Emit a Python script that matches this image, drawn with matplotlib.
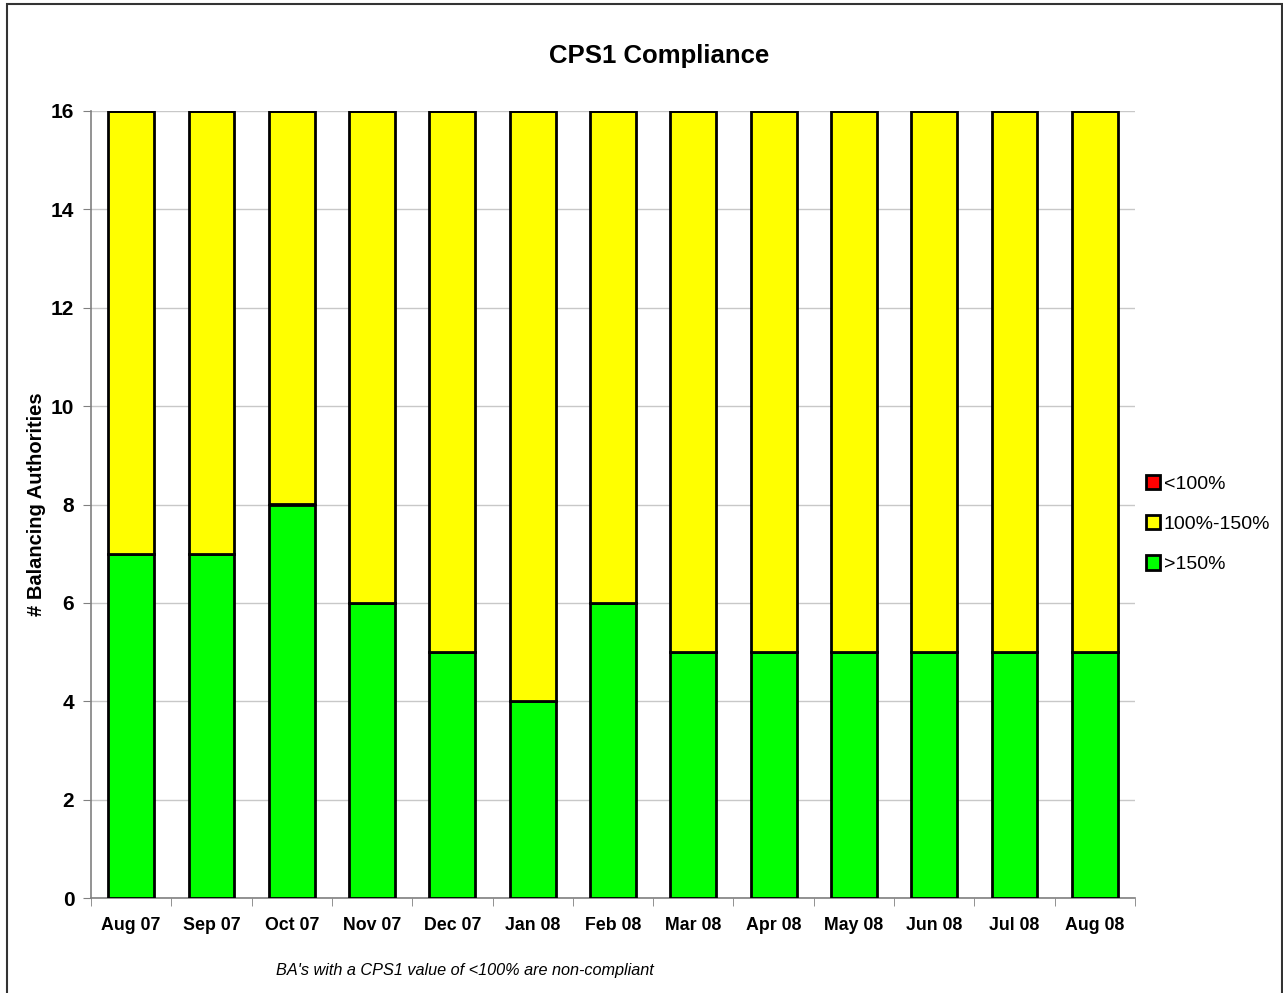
import matplotlib.pyplot as plt
import numpy as np
from matplotlib.patches import Rectangle

plt.rcParams['font.family'] = ['Liberation Sans', 'DejaVu Sans']

months = ["Aug 07", "Sep 07", "Oct 07", "Nov 07", "Dec 07", "Jan 08", "Feb 08",
          "Mar 08", "Apr 08", "May 08", "Jun 08", "Jul 08", "Aug 08"]
over_150 = [7, 7, 8, 6, 5, 4, 6, 5, 5, 5, 5, 5, 5]
mid_100_150 = [9, 9, 8, 10, 11, 12, 10, 11, 11, 11, 11, 11, 11]
under_100 = [0, 0, 0, 0, 0, 0, 0, 0, 0, 0, 0, 0, 0]

x = np.arange(len(months))
width = 0.57

fig = plt.figure(figsize=(12.83, 9.93), dpi=100)
ax = fig.add_axes([91 / 1283, 1 - 898 / 993, (1135 - 91) / 1283, (898 - 111) / 993])

green = np.array(over_150)
yellow = np.array(mid_100_150)
bars_g = ax.bar(x, green, width, color="#00ff00", edgecolor="black", linewidth=2, label=">150%", zorder=3)
bars_y = ax.bar(x, yellow, width, bottom=green, color="#ffff00", edgecolor="black", linewidth=2,
                label="100%-150%", zorder=3)
bars_r = ax.bar(x, under_100, width, bottom=green + yellow, color="#ff0000", edgecolor="black",
                linewidth=2, label="<100%", zorder=3)

ax.set_xlim(-0.5, len(months) - 0.5)
ax.set_ylim(0, 16)
ax.set_yticks(range(0, 17, 2))
ax.set_yticklabels([str(v) for v in range(0, 17, 2)], fontsize=15, fontweight="bold")
ax.set_xticks(x)
ax.set_xticklabels(months, fontsize=12.8, fontweight="bold")
ax.tick_params(axis="x", length=0, pad=14)
ax.set_xticks(np.arange(-0.5, len(months)), minor=True)
ax.tick_params(axis="x", which="minor", length=6, color="#808080", direction="out")
ax.tick_params(axis="y", length=6, color="#808080", direction="out", pad=6)

ax.grid(axis="y", color="#c8c8c8", linewidth=1, zorder=0)
for side in ["top", "right"]:
    ax.spines[side].set_visible(False)
for side in ["left", "bottom"]:
    ax.spines[side].set_color("#808080")
    ax.spines[side].set_linewidth(1.2)

ax.set_ylabel("# Balancing Authorities", fontsize=14.5, fontweight="bold", va="center")
ax.yaxis.set_label_coords(-54 / 1044, 0.5)

fig.text(659 / 1283, 1 - 56 / 993, "CPS1 Compliance", ha="center", va="center",
         fontsize=18.5, fontweight="bold")
fig.text(465 / 1283, 1 - 971 / 993, "BA's with a CPS1 value of <100% are non-compliant",
         ha="center", va="center", fontsize=11.7, style="italic")

handles = [bars_r, bars_y, bars_g]
leg = fig.legend(handles, [h.get_label() for h in handles], loc="center left",
                 bbox_to_anchor=(1128 / 1283, 1 - 524 / 993), frameon=False, fontsize=14,
                 handlelength=0.75, handleheight=0.75, handletextpad=0.2, labelspacing=1.15)
for h in leg.legend_handles:
    h.set_linewidth(2)

# outer chart border
fig.add_artist(Rectangle((7 / 1283, -0.01), (1282 - 7) / 1283, 1 - 4 / 993 + 0.01,
                         transform=fig.transFigure, fill=False, edgecolor="#333333", linewidth=1.5))

fig.savefig("out.png", dpi=100)
